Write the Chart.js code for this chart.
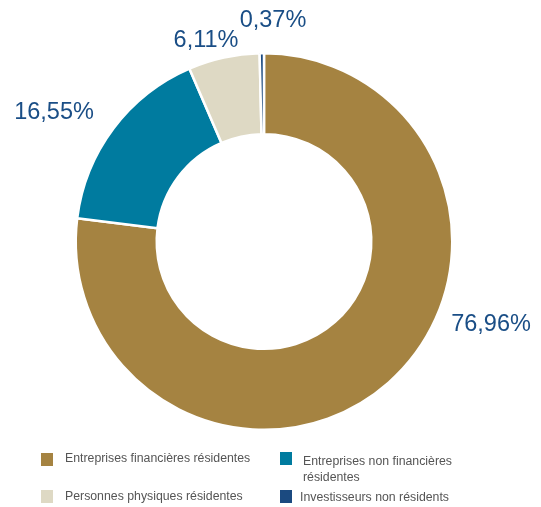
<!DOCTYPE html>
<html><head><meta charset="utf-8">
<script src="https://cdn.jsdelivr.net/npm/chart.js@4"></script>
<style>
html,body{margin:0;padding:0;background:#fff;}
#wrap{position:relative;width:541px;height:507px;}
canvas{position:absolute;left:0;top:0;}
.lg{position:absolute;font-family:"Liberation Sans",Arial,sans-serif;font-size:12.3px;color:#555;line-height:16px;white-space:nowrap;}
.sw{position:absolute;width:12px;height:13px;}
</style></head>
<body><div id="wrap"><canvas id="c" width="541" height="507"></canvas></div>
<script>
const categories = ["Entreprises financières résidentes","Entreprises non financières résidentes","Personnes physiques résidentes","Investisseurs non résidents"];
const values = [76.96, 16.55, 6.11, 0.37];
const valueLabels = ["76,96%","16,55%","6,11%","0,37%"];
const colors = ["#A58341","#007B9F","#DED9C4","#1B4A80"];
const labelOffsets = [[227,83],[-210,-129],[-58,-201],[9,-221]];

const labelPlugin = {
  id:'pct',
  afterDatasetsDraw(chart){
    const ctx = chart.ctx; const meta = chart.getDatasetMeta(0);
    ctx.save();
    ctx.font = '23.5px "Liberation Sans", Arial, sans-serif';
    ctx.fillStyle = '#1A4E86'; ctx.textAlign='center'; ctx.textBaseline='middle';
    meta.data.forEach((arc,i)=>{
      ctx.fillText(valueLabels[i], arc.x + labelOffsets[i][0], arc.y + labelOffsets[i][1]);
    });
    ctx.restore();
  }
};

new Chart(document.getElementById('c'),{
  type:'doughnut',
  data:{labels:categories,datasets:[{data:values,backgroundColor:colors,borderColor:'#fff',borderWidth:2.5}]},
  options:{responsive:false,animation:false,cutout:'57%',
    layout:{padding:{left:74,right:87,top:52,bottom:76}},
    plugins:{legend:{display:false},tooltip:{enabled:false}}},
  plugins:[labelPlugin]
});

const wrap = document.getElementById('wrap');
const legendPos = [[41,453,65,450],[280,452,303,453],[41,490,65,488],[280,490,300,489]];
const legendText = ["Entreprises financières résidentes","Entreprises non financières<br>résidentes","Personnes physiques résidentes","Investisseurs non résidents"];
categories.forEach((c,i)=>{
  const s=document.createElement('div'); s.className='sw'; s.style.left=legendPos[i][0]+'px'; s.style.top=legendPos[i][1]+'px'; s.style.background=colors[i]; wrap.appendChild(s);
  const t=document.createElement('div'); t.className='lg'; t.style.left=legendPos[i][2]+'px'; t.style.top=legendPos[i][3]+'px'; t.innerHTML=legendText[i]; wrap.appendChild(t);
});
</script></body></html>
